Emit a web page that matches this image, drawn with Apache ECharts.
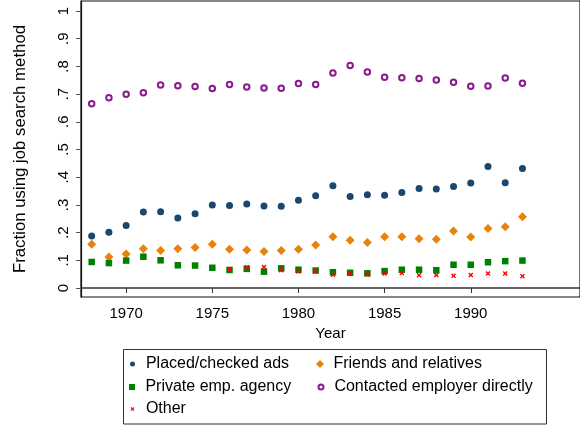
<!DOCTYPE html>
<html>
<head>
<meta charset="utf-8">
<script src="https://cdn.jsdelivr.net/npm/echarts@6/dist/echarts.min.js"></script>
<style>
	html, body { margin: 0; padding: 0; background: #fff; }
	#chart { width: 580px; height: 428px; }
</style>
</head>
<body>
<div id="chart"></div>
<script>
	// years of the survey
	const years = [1968, 1969, 1970, 1971, 1972, 1973, 1974, 1975, 1976, 1977, 1978, 1979, 1980,
		1981, 1982, 1983, 1984, 1985, 1986, 1987, 1988, 1989, 1990, 1991, 1992, 1993];

	const adsValues = [0.188, 0.201, 0.226, 0.274, 0.275, 0.253, 0.268, 0.300, 0.298, 0.303, 0.296, 0.295, 0.317,
		0.333, 0.369, 0.330, 0.337, 0.335, 0.345, 0.359, 0.357, 0.366, 0.379, 0.439, 0.380, 0.431];
	const friendsValues = [0.158, 0.112, 0.123, 0.142, 0.135, 0.142, 0.146, 0.158, 0.140, 0.137, 0.132, 0.135, 0.140,
		0.155, 0.185, 0.172, 0.164, 0.185, 0.185, 0.178, 0.176, 0.206, 0.184, 0.215, 0.221, 0.257];
	const agencyValues = [0.094, 0.090, 0.099, 0.113, 0.100, 0.082, 0.081, 0.073, 0.065, 0.069, 0.059, 0.071, 0.066,
		0.063, 0.057, 0.055, 0.053, 0.061, 0.066, 0.066, 0.064, 0.084, 0.084, 0.093, 0.097, 0.099];
	const directValues = [0.665, 0.687, 0.699, 0.705, 0.733, 0.730, 0.727, 0.720, 0.735, 0.726, 0.722, 0.721, 0.738,
		0.735, 0.776, 0.803, 0.780, 0.761, 0.759, 0.756, 0.751, 0.743, 0.728, 0.729, 0.758, 0.739];
	// "Other" only shows up from 1976 on
	const otherYears = [1976, 1977, 1978, 1979, 1980, 1981, 1982, 1983, 1984, 1985, 1986, 1987, 1988, 1989,
		1990, 1991, 1992, 1993];
	const otherValues = [0.069, 0.075, 0.076, 0.064, 0.060, 0.061, 0.048, 0.053, 0.049, 0.052, 0.054, 0.046,
		0.047, 0.044, 0.047, 0.052, 0.052, 0.042];

	const yTicks = [0, 0.1, 0.2, 0.3, 0.4, 0.5, 0.6, 0.7, 0.8, 0.9, 1];
	const xTicks = [1970, 1975, 1980, 1985, 1990];

	const FONT = "Liberation Sans, Arial, sans-serif";
	const crossPath = "path://M0,2L2,0L5,3L8,0L10,2L7,5L10,8L8,10L5,7L2,10L0,8L3,5Z";

	const pair = (xs, vs) => xs.map((x, i) => [x, vs[i]]);

	const chartEl = document.getElementById("chart");
	const chart = echarts.init(chartEl, null, { renderer: "canvas" });

	// one legend per entry so the two columns line up like the original
	const legendItem = (name, icon, size, left, top) => ({
		data: [{ name: name, icon: icon }],
		left: left,
		top: top,
		padding: 0,
		itemWidth: size,
		itemHeight: size,
		selectedMode: false,
		textStyle: {
			fontFamily: FONT, fontSize: 16, color: "#000",
			padding: [0, 0, 0, 8.4 - size / 2]
		}
	});

	const option = {
		animation: false,
		backgroundColor: "#fff",
		grid: {
			left: 81,
			right: -3,
			top: 1,
			bottom: 131,
			show: true,
			borderColor: "#111",
			borderWidth: 1.2
		},
		xAxis: {
			type: "value",
			min: 1967.38,
			max: 1996.34,
			name: "Year",
			nameLocation: "middle",
			nameGap: 27,
			nameTextStyle: { fontFamily: FONT, fontSize: 15, color: "#000" },
			axisLine: { show: true, lineStyle: { color: "#333", width: 1.5 } },
			axisTick: { show: true, length: 5, lineStyle: { color: "#333" }, customValues: xTicks },
			axisLabel: {
				fontFamily: FONT, fontSize: 15, color: "#000", margin: 9,
				customValues: xTicks,
				formatter: v => String(v)
			},
			splitLine: { show: false }
		},
		yAxis: {
			type: "value",
			min: -0.0325,
			max: 1.036,
			name: "Fraction using job search method",
			nameLocation: "middle",
			nameRotate: 90,
			nameGap: 52,
			nameTextStyle: { fontFamily: FONT, fontSize: 16.8, color: "#000" },
			axisLine: { show: true, lineStyle: { color: "#111", width: 1.2 } },
			axisTick: { show: true, length: 5, lineStyle: { color: "#555" }, customValues: yTicks },
			axisLabel: {
				fontFamily: FONT, fontSize: 15, color: "#000", rotate: 90, margin: 10,
				customValues: yTicks,
				formatter: v => (v === 0 ? "0" : v === 1 ? "1" : "." + Math.round(v * 10))
			},
			splitLine: { show: false }
		},
		legend: [
			legendItem("Placed/checked ads", "circle", 5, 130, 356),
			legendItem("Friends and relatives", "diamond", 8, 316, 356),
			legendItem("Private emp. agency", "rect", 6, 129, 379),
			legendItem("Contacted employer directly", "emptyCircle", 5, 317.5, 379),
			legendItem("Other", crossPath, 4, 130.5, 401)
		],
		graphic: [{
			type: "rect",
			shape: { x: 123.5, y: 349.5, width: 423, height: 74.5 },
			style: { fill: "none", stroke: "#333", lineWidth: 1 },
			z: -1
		}],
		series: [
			{
				name: "Placed/checked ads",
				type: "scatter",
				symbol: "circle",
				symbolSize: 7,
				itemStyle: { color: "#1a476f", opacity: 1 },
				data: pair(years, adsValues)
			},
			{
				name: "Friends and relatives",
				type: "scatter",
				symbol: "diamond",
				symbolSize: 9,
				itemStyle: { color: "#e8820c", opacity: 1 },
				data: pair(years, friendsValues)
			},
			{
				name: "Private emp. agency",
				type: "scatter",
				symbol: "rect",
				symbolSize: 6.5,
				itemStyle: { color: "#008000", opacity: 1 },
				data: pair(years, agencyValues)
			},
			{
				name: "Contacted employer directly",
				type: "scatter",
				symbol: "emptyCircle",
				symbolSize: 5.5,
				itemStyle: { color: "#8b1a8b", borderWidth: 1.7, opacity: 1 },
				data: pair(years, directValues)
			},
			{
				name: "Other",
				type: "scatter",
				symbol: crossPath,
				symbolSize: 5,
				itemStyle: { color: "#ff0000", opacity: 1 },
				data: pair(otherYears, otherValues)
			}
		]
	};

	chart.setOption(option);
	window.addEventListener("resize", () => chart.resize());
</script>
</body>
</html>
